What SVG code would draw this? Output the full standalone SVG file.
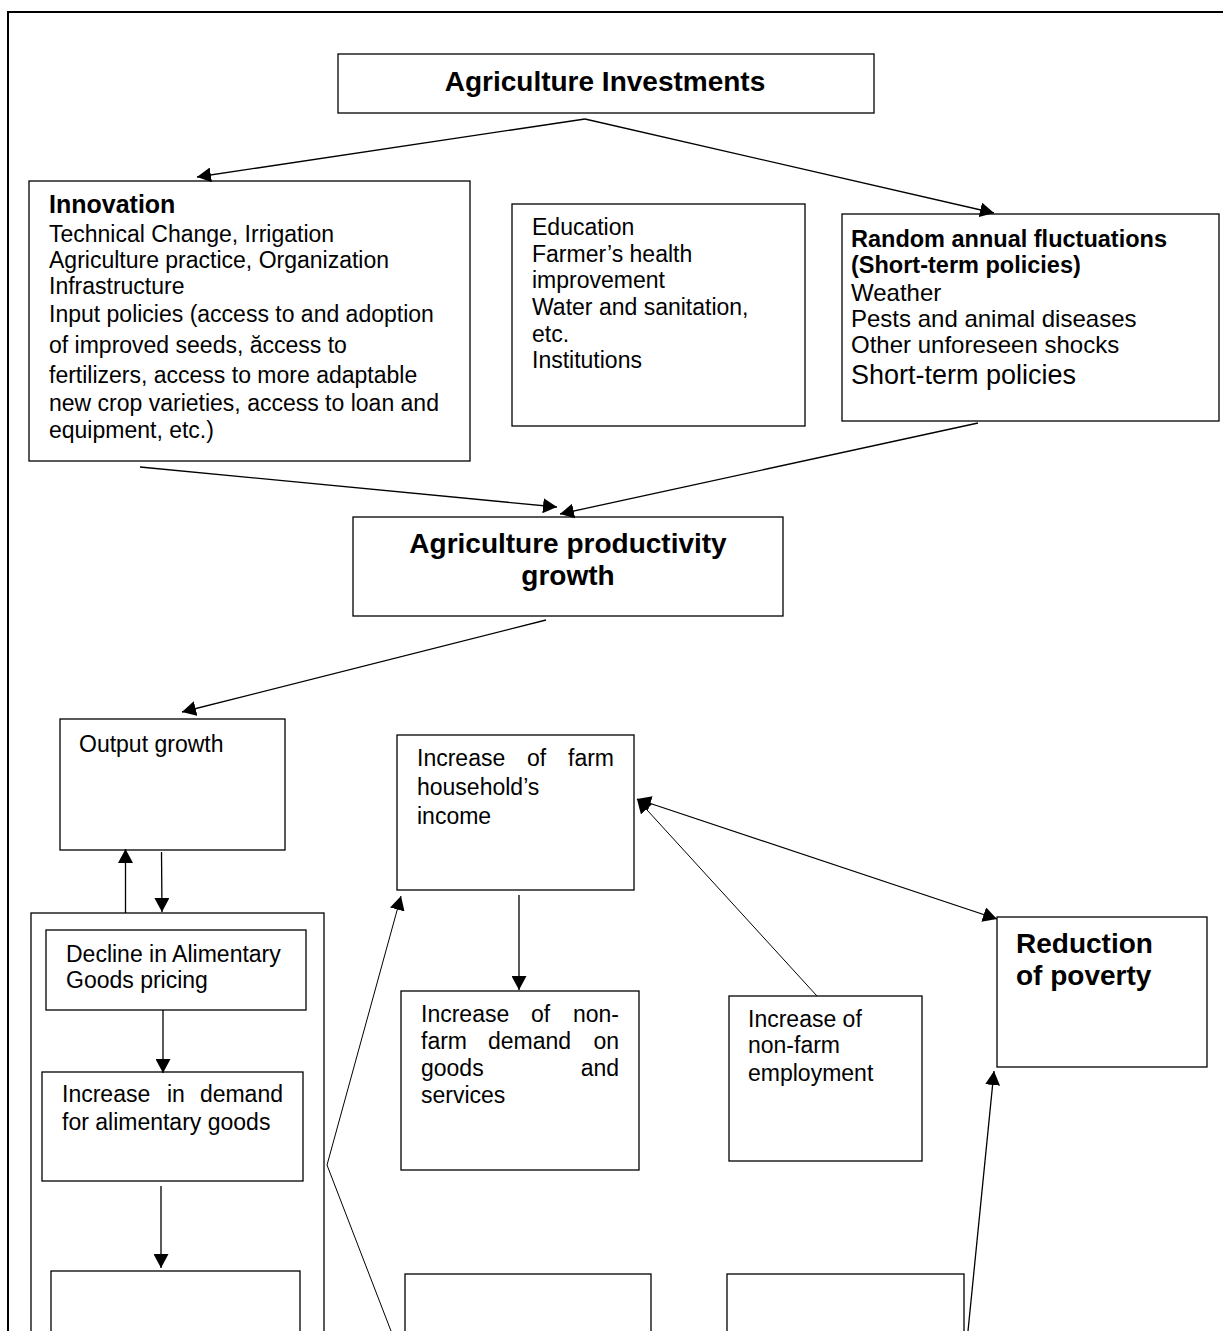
<svg xmlns="http://www.w3.org/2000/svg" width="1223" height="1331" viewBox="0 0 1223 1331">
<style>
.b{fill:#fff;stroke:#000;stroke-width:1.3}
.t{font-family:"Liberation Sans",Arial,sans-serif;font-size:23px;fill:#000}
.h{font-family:"Liberation Sans",Arial,sans-serif;font-weight:bold;fill:#000}
.r{font-size:24px}
.c{fill:none;stroke:#000;stroke-width:1.3}
.c1{fill:none;stroke:#000;stroke-width:1}
</style>
<defs>
<marker id="ah" viewBox="0 0 14 15" refX="14" refY="7.5" markerWidth="14" markerHeight="15" markerUnits="userSpaceOnUse" orient="auto-start-reverse">
<path d="M0,0 L14,7.5 L0,15 z" fill="#000"/>
</marker>
</defs>
<rect width="1223" height="1331" fill="#fff"/>
<path d="M8,1331 V12 H1223" fill="none" stroke="#000" stroke-width="2"/>

<g id="agri-investments">
<rect class="b" x="338" y="54" width="536" height="59"/>
<text class="h" x="605" y="91" font-size="28" text-anchor="middle">Agriculture Investments</text>
</g>

<g id="innovation">
<rect class="b" x="29" y="181" width="441" height="280"/>
<text class="h" x="49" y="213" font-size="25">Innovation</text>
<text class="t" x="49" y="242">Technical Change, Irrigation</text>
<text class="t" x="49" y="268">Agriculture practice, Organization</text>
<text class="t" x="49" y="294">Infrastructure</text>
<text class="t" x="49" y="322">Input policies (access to and adoption</text>
<text class="t" x="49" y="353">of improved seeds, ăccess to</text>
<text class="t" x="49" y="383">fertilizers, access to more adaptable</text>
<text class="t" x="49" y="411">new crop varieties, access to loan and</text>
<text class="t" x="49" y="438">equipment, etc.)</text>
</g>

<g id="education">
<rect class="b" x="512" y="204" width="293" height="222"/>
<text class="t" x="532" y="235">Education</text>
<text class="t" x="532" y="262">Farmer’s health</text>
<text class="t" x="532" y="288">improvement</text>
<text class="t" x="532" y="315">Water and sanitation,</text>
<text class="t" x="532" y="342">etc.</text>
<text class="t" x="532" y="368">Institutions</text>
</g>

<g id="random">
<rect class="b" x="842" y="214" width="377" height="207"/>
<text class="h" x="851" y="247" font-size="23.5">Random annual fluctuations</text>
<text class="h" x="851" y="273" font-size="23.5">(Short-term policies)</text>
<text class="t r" x="851" y="301">Weather</text>
<text class="t r" x="851" y="327">Pests and animal diseases</text>
<text class="t r" x="851" y="353">Other unforeseen shocks</text>
<text class="t" x="851" y="384" style="font-size:27px">Short-term policies</text>
</g>

<g id="productivity">
<rect class="b" x="353" y="517" width="430" height="99"/>
<text class="h" x="568" y="553" font-size="28" text-anchor="middle">Agriculture productivity</text>
<text class="h" x="568" y="585" font-size="28" text-anchor="middle">growth</text>
</g>

<g id="output-growth">
<rect class="b" x="60" y="719" width="225" height="131"/>
<text class="t" x="79" y="752">Output growth</text>
</g>

<g id="alimentary-container">
<rect class="b" x="31" y="913" width="293" height="430"/>
</g>

<g id="decline">
<rect class="b" x="46" y="930" width="260" height="80"/>
<text class="t" x="66" y="962">Decline in Alimentary</text>
<text class="t" x="66" y="988">Goods pricing</text>
</g>

<g id="demand-alimentary">
<rect class="b" x="42" y="1072" width="261" height="109"/>
<text class="t" x="62" y="1102">Increase</text>
<text class="t" x="167" y="1102">in</text>
<text class="t" x="283" y="1102" text-anchor="end">demand</text>
<text class="t" x="62" y="1130">for alimentary goods</text>
</g>

<g id="bottom-left">
<rect class="b" x="51" y="1271" width="249" height="80"/>
</g>

<g id="farm-income">
<rect class="b" x="397" y="735" width="237" height="155"/>
<text class="t" x="417" y="766">Increase</text>
<text class="t" x="527" y="766">of</text>
<text class="t" x="614" y="766" text-anchor="end">farm</text>
<text class="t" x="417" y="795">household’s</text>
<text class="t" x="417" y="824">income</text>
</g>

<g id="nonfarm-demand">
<rect class="b" x="401" y="991" width="238" height="179"/>
<text class="t" x="421" y="1022">Increase</text>
<text class="t" x="531" y="1022">of</text>
<text class="t" x="619" y="1022" text-anchor="end">non-</text>
<text class="t" x="421" y="1049">farm</text>
<text class="t" x="488" y="1049">demand</text>
<text class="t" x="619" y="1049" text-anchor="end">on</text>
<text class="t" x="421" y="1076">goods</text>
<text class="t" x="619" y="1076" text-anchor="end">and</text>
<text class="t" x="421" y="1103">services</text>
</g>

<g id="nonfarm-employment">
<rect class="b" x="729" y="996" width="193" height="165"/>
<text class="t" x="748" y="1027">Increase of</text>
<text class="t" x="748" y="1053">non-farm</text>
<text class="t" x="748" y="1081">employment</text>
</g>

<g id="poverty">
<rect class="b" x="997" y="917" width="210" height="150"/>
<text class="h" x="1016" y="953" font-size="28">Reduction</text>
<text class="h" x="1016" y="985" font-size="28">of poverty</text>
</g>

<g id="bottom-middle">
<rect class="b" x="405" y="1274" width="246" height="80"/>
</g>

<g id="bottom-right">
<rect class="b" x="727" y="1274" width="237" height="80"/>
</g>

<g id="connectors">
<line class="c" x1="585" y1="119" x2="197" y2="177" marker-end="url(#ah)"/>
<line class="c" x1="585" y1="119" x2="994" y2="213" marker-end="url(#ah)"/>
<line class="c" x1="140" y1="467" x2="557" y2="507" marker-end="url(#ah)"/>
<line class="c" x1="978" y1="423" x2="560" y2="514" marker-end="url(#ah)"/>
<line class="c" x1="546" y1="620" x2="182" y2="712" marker-end="url(#ah)"/>
<line class="c" x1="125.5" y1="913" x2="125.5" y2="849" marker-end="url(#ah)"/>
<line class="c" x1="161.5" y1="852" x2="162" y2="912" marker-end="url(#ah)"/>
<line class="c" x1="163" y1="1010" x2="163" y2="1073" marker-end="url(#ah)"/>
<line class="c" x1="161" y1="1186" x2="161" y2="1268" marker-end="url(#ah)"/>
<line class="c" x1="519" y1="895" x2="519" y2="990" marker-end="url(#ah)"/>
<polyline class="c1" points="391,1331 327,1165 401,896" marker-end="url(#ah)"/>
<line class="c1" x1="817" y1="996" x2="637" y2="799" marker-end="url(#ah)"/>
<line class="c" x1="637" y1="799" x2="997" y2="919" marker-start="url(#ah)" marker-end="url(#ah)"/>
<line class="c" x1="968" y1="1331" x2="994" y2="1071" marker-end="url(#ah)"/>
</g>
</svg>
